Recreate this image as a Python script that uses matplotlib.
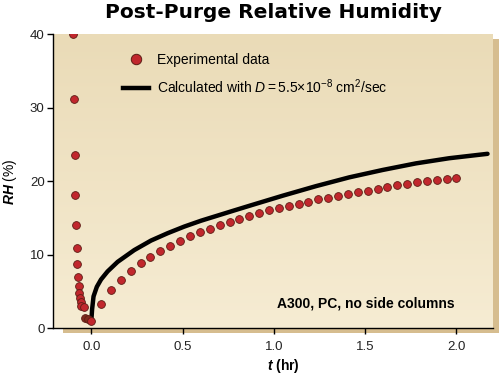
import numpy as np
import matplotlib
matplotlib.use("Agg")
import matplotlib.pyplot as plt
from matplotlib.lines import Line2D
from matplotlib.patches import Rectangle

plt.rcParams["font.family"] = ["Liberation Sans", "DejaVu Sans"]
plt.rcParams["mathtext.fontset"] = "custom"
plt.rcParams["mathtext.rm"] = "Liberation Sans"
plt.rcParams["mathtext.it"] = "Liberation Sans:italic"
plt.rcParams["mathtext.bf"] = "Liberation Sans:bold"
plt.rcParams["mathtext.bfit"] = "Liberation Sans:bold:italic"

# experimental data, before the purge ends (t < 0)
t_pre = [-0.099, -0.095, -0.091, -0.088, -0.084, -0.080, -0.077, -0.073,
         -0.070, -0.066, -0.062, -0.059, -0.054, -0.038]
rh_pre = [40.0, 31.1, 23.6, 18.1, 14.0, 10.9, 8.7, 7.0,
          5.7, 4.8, 4.1, 3.5, 3.0, 2.9]

# the two darker points near the minimum
t_dark = [-0.033, -0.020]
rh_dark = [1.4, 1.2]

# experimental data after the purge
t_post = [0.000, 0.054, 0.108, 0.162, 0.216, 0.270, 0.324, 0.378, 0.432,
          0.486, 0.541, 0.595, 0.649, 0.703, 0.757, 0.811, 0.865, 0.919,
          0.973, 1.027, 1.081, 1.135, 1.189, 1.243, 1.297, 1.351, 1.405,
          1.459, 1.514, 1.568, 1.622, 1.676, 1.730, 1.784, 1.838, 1.892,
          1.946, 2.000]
rh_post = [1.0, 3.3, 5.2, 6.6, 7.8, 8.8, 9.7, 10.5, 11.2, 11.8, 12.5, 13.0,
           13.5, 14.0, 14.4, 14.8, 15.2, 15.6, 16.0, 16.3, 16.6, 16.9, 17.2,
           17.5, 17.7, 18.0, 18.3, 18.5, 18.7, 18.9, 19.2, 19.4, 19.6, 19.8,
           20.0, 20.1, 20.3, 20.45]

# calculated curve, D = 5.5e-8 cm^2/sec
t_calc = [0.0, 0.004, 0.012, 0.030, 0.053, 0.089, 0.144, 0.235, 0.327,
          0.418, 0.509, 0.601, 0.692, 0.783, 0.875, 1.048, 1.230, 1.413,
          1.595, 1.778, 1.960, 2.170]
rh_calc = [1.0, 2.5, 4.3, 5.6, 6.6, 7.7, 9.0, 10.6, 11.9, 12.9, 13.8, 14.6,
           15.3, 16.0, 16.7, 18.0, 19.3, 20.5, 21.5, 22.4, 23.1, 23.7]

red = "#c1272d"
edge = "#5b1c14"

fig = plt.figure(figsize=(5, 3.75), dpi=100)
ax = fig.add_axes([0.106, 0.1253, 0.88, 0.784])

# drop shadow behind the panel
fig.patches.append(Rectangle((0.126, 0.112), 0.872, 0.784, transform=fig.transFigure,
                             facecolor="#d6bd8f", edgecolor="none", zorder=-1))

# gradient panel
grad = np.linspace(0, 1, 256).reshape(-1, 1)
cmap = matplotlib.colors.LinearSegmentedColormap.from_list("bg", ["#f6ecd3", "#eadbb7"])
ax.imshow(grad, extent=[0, 1, 0, 1], transform=ax.transAxes, cmap=cmap,
          aspect="auto", origin="lower", zorder=0)

ax.plot(t_calc, rh_calc, color="black", lw=3.2, solid_capstyle="round", zorder=2)
ax.plot(t_pre, rh_pre, "o", ms=5.6, mfc=red, mec=edge, mew=0.6, zorder=3)
ax.plot(t_dark, rh_dark, "o", ms=5.6, mfc="#7e2a1c", mec=edge, mew=0.6, zorder=3)
ax.plot(t_post, rh_post, "o", ms=5.6, mfc=red, mec=edge, mew=0.6, zorder=3)

ax.set_xlim(-0.21, 2.2)
ax.set_ylim(0, 40)
ax.set_xticks([0, 0.5, 1.0, 1.5, 2.0])
ax.set_xticklabels(["0.0", "0.5", "1.0", "1.5", "2.0"])
ax.set_yticks([0, 10, 20, 30, 40])
ax.tick_params(axis="both", direction="out", length=4, width=1, labelsize=9.5,
               labelcolor="#222222")
ax.tick_params(axis="x", pad=5)
ax.tick_params(axis="y", pad=2)
for s in ["top", "right"]:
    ax.spines[s].set_visible(False)
for s in ["left", "bottom"]:
    ax.spines[s].set_linewidth(1)

handles = [
    Line2D([], [], marker="o", ls="none", ms=7.5, mfc=red, mec=edge, mew=0.7),
    Line2D([], [], color="black", lw=3.2),
]
labels = ["Experimental data",
          r"Calculated with $D = 5.5{\times}10^{-8}$ cm$^2$/sec"]
ax.legend(handles, labels, loc="upper left", bbox_to_anchor=(0.158, 0.935),
          frameon=False, fontsize=10, handlelength=1.9, handletextpad=0.6,
          labelspacing=0.75, borderpad=0, borderaxespad=0)

ax.text(0.711, 0.085, "A300, PC, no side columns", transform=ax.transAxes,
        ha="center", va="center", fontsize=10, fontweight="bold")

fig.text(0.546, 0.966, "Post-Purge Relative Humidity", ha="center", va="center",
         fontsize=14.5, fontweight="bold", family="DejaVu Sans")
fig.text(283 / 500, 1 - 366 / 375, r"$\mathbfit{t}$ (hr)", ha="center",
         va="center", fontsize=10, fontweight="bold")
fig.text(10 / 500, 1 - 182 / 375, r"$\mathbfit{RH}$ (%)", ha="center",
         va="center", rotation=90, fontsize=10)

fig.savefig("out.png", dpi=100)
